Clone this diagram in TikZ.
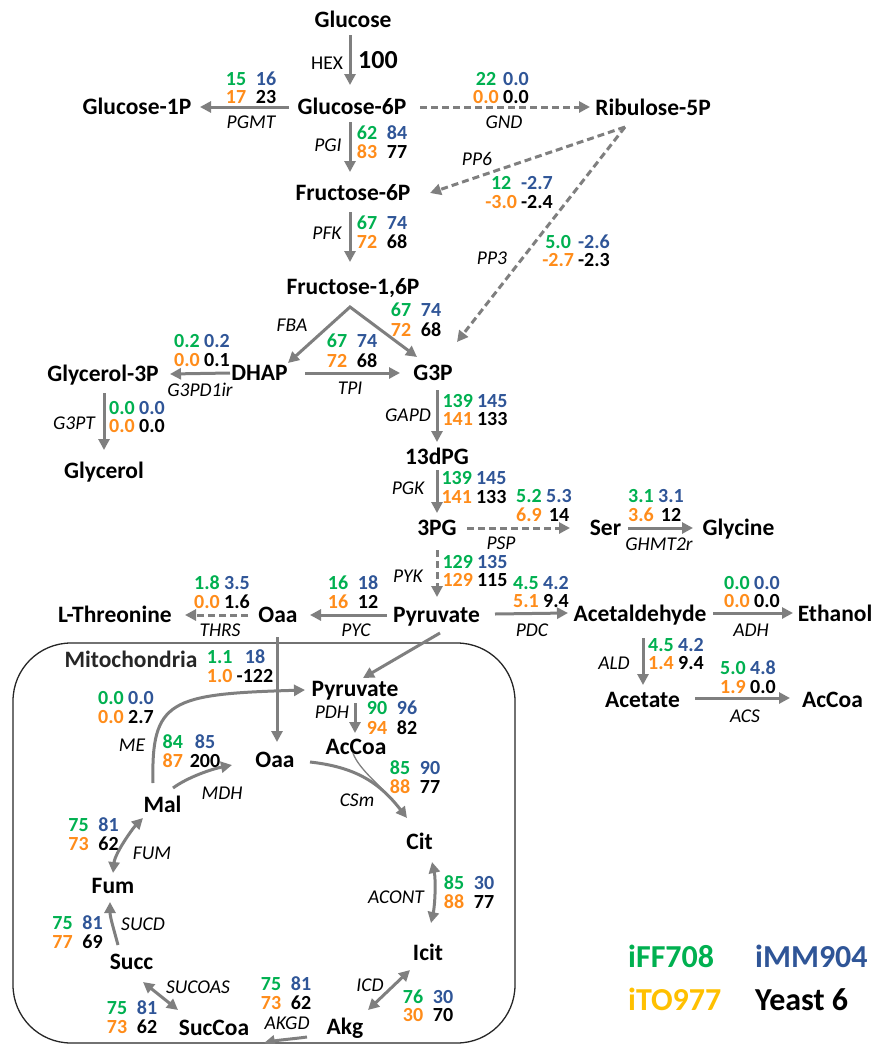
\documentclass[tikz,border=0pt]{standalone}
\usepackage{fontspec}
\setmainfont{Carlito}
\usetikzlibrary{arrows.meta,calc}
\definecolor{cG}{HTML}{00B050}
\definecolor{cB}{HTML}{2F5597}
\definecolor{cO}{HTML}{FF8C1A}
\definecolor{cY}{HTML}{FFC000}
\definecolor{cK}{HTML}{000000}
\definecolor{cA}{HTML}{7F7F7F}
\newcommand\mcell[1]{\setbox0\hbox{#1}\ifdim\wd0<26pt\makebox[26pt]{#1}\else\box0\fi}
\newcommand\fx[4]{\begin{tabular}{@{}c@{\hspace{4pt}}c@{}}\mcell{\color{cG}#1}&\mcell{\color{cB}#2}\\\mcell{\color{cO}#3}&\mcell{\color{cK}#4}\end{tabular}}
\tikzset{
  met/.style={font=\fontsize{23.5}{28}\selectfont\bfseries, inner sep=0pt, text height=15.1pt, text depth=0pt},
  enz/.style={font=\fontsize{19.5}{22}\selectfont\itshape, inner sep=0pt, text height=12.2pt, text depth=0pt},
  num/.style={font=\fontsize{20}{18.5}\selectfont\bfseries, inner sep=0pt, yshift=-2.6pt},
  leg/.style={font=\fontsize{32}{36}\selectfont\bfseries, inner sep=0pt, text height=20.6pt, text depth=0pt, anchor=west},
  arr/.style={draw=cA, line width=3pt, -{Triangle[length=11pt,width=11pt]}},
  arrtwo/.style={draw=cA, line width=3pt, {Triangle[length=11pt,width=11pt]}-{Triangle[length=11pt,width=11pt]}},
  darr/.style={arr, dash pattern=on 7pt off 4pt},
  thinline/.style={draw=cA, line width=1.3pt},
}
\begin{document}
\begin{tikzpicture}[x=1pt,y=-1pt]
\useasboundingbox (0,0) rectangle (878,1044);
% mitochondria compartment
\coordinate (mtl) at (13,643);
\coordinate (mbr) at (515,1043);
\draw[line width=1.3pt, black!85, rounded corners=58pt] (mtl) rectangle (mbr);
% metabolites
\node[met] (glc) at (353,20) {Glucose};
\node[met] (g6p) at (352,107) {Glucose-6P};
\node[met] (g1p) at (137,107) {Glucose-1P};
\node[met] (r5p) at (653,108) {Ribulose-5P};
\node[met] (f6p) at (353,193) {Fructose-6P};
\node[met] (f16p) at (353,287) {Fructose-1,6P};
\node[met] (dhap) at (259.5,373) {DHAP};
\node[met] (g3p) at (433,373) {G3P};
\node[met] (g3pc) at (103,374) {Glycerol-3P};
\node[met] (glyc) at (104,471) {Glycerol};
\node[met] (dpg) at (437,457) {13dPG};
\node[met] (pg3) at (437,528) {3PG};
\node[met] (ser) at (605.5,528) {Ser};
\node[met] (gly) at (738.5,528) {Glycine};
\node[met] (pyr) at (436.5,615) {Pyruvate};
\node[met] (acald) at (640,614) {Acetaldehyde};
\node[met] (etoh) at (835,614) {Ethanol};
\node[met] (oaa) at (278,615) {Oaa};
\node[met] (thr) at (115,615) {L-Threonine};
\node[met] (acet) at (642.5,700) {Acetate};
\node[met] (caccoa) at (832.5,700) {AcCoa};
\node[met] (mpyr) at (355,689) {Pyruvate};
\node[met] (maccoa) at (356,747) {AcCoa};
\node[met] (moaa) at (275,760) {Oaa};
\node[met] (mal) at (162.5,805) {Mal};
\node[met] (cit) at (419.5,842) {Cit};
\node[met] (icit) at (428,953) {Icit};
\node[met] (akg) at (345,1027) {Akg};
\node[met] (succoa) at (214,1028) {SucCoa};
\node[met] (succ) at (131.5,962) {Succ};
\node[met] (fum) at (113,886) {Fum};
\node[met, text=black!85] (mito) at (131,660) {Mitochondria};
% enzyme labels
\node[enz, font=\fontsize{19.5}{22}\selectfont] (ehex) at (327,63) {HEX};
\node[num, font=\fontsize{26}{30}\selectfont\bfseries, yshift=2.6pt, text height=16.7pt, text depth=0pt] (v100) at (378,60) {100};
\node[enz] (epgmt) at (251,122) {PGMT};
\node[enz] (egnd) at (504,122) {GND};
\node[enz] (epgi) at (328,145) {PGI};
\node[enz] (epfk) at (327,233) {PFK};
\node[enz] (epp6) at (477,159) {PP6};
\node[enz] (epp3) at (492,258) {PP3};
\node[enz] (efba) at (292,325) {FBA};
\node[enz] (etpi) at (350,388) {TPI};
\node[enz] (eg3pd) at (200,390) {G3PD1ir};
\node[enz] (eg3pt) at (74,423) {G3PT};
\node[enz] (egapd) at (408,415) {GAPD};
\node[enz] (epgk) at (408,488) {PGK};
\node[enz] (epsp) at (501,543) {PSP};
\node[enz] (eghmt) at (659,544) {GHMT2r};
\node[enz] (epyk) at (408,576) {PYK};
\node[enz] (epdc) at (532,630) {PDC};
\node[enz] (eadh) at (751,630) {ADH};
\node[enz] (epyc) at (356,630) {PYC};
\node[enz] (ethrs) at (220,630) {THRS};
\node[enz] (eme) at (132,745) {ME};
\node[enz] (emdh) at (222,793) {MDH};
\node[enz] (epdh) at (332,712) {PDH};
\node[enz] (ecsm) at (357,800) {CSm};
\node[enz] (eacont) at (396,897) {ACONT};
\node[enz] (eicd) at (370,985) {ICD};
\node[enz] (eakgd) at (287,1023) {AKGD};
\node[enz] (esucoas) at (198,987) {SUCOAS};
\node[enz] (esucd) at (143,924) {SUCD};
\node[enz] (efum) at (152,853) {FUM};
\node[enz] (eald) at (614,663) {ALD};
\node[enz] (eacs) at (745,716) {ACS};
% flux values
\node[num] (npgmt) at (251,88) {\fx{15}{16}{17}{23}};
\node[num] (ngnd) at (501,88) {\fx{22}{0.0}{0.0}{0.0}};
\node[num] (npgi) at (382,142.5) {\fx{62}{84}{83}{77}};
\node[num] (npp6) at (519,192.5) {\fx{12}{-2.7}{-3.0}{-2.4}};
\node[num] (npfk) at (382,232.5) {\fx{67}{74}{72}{68}};
\node[num] (npp3) at (576,251) {\fx{5.0}{-2.6}{-2.7}{-2.3}};
\node[num] (nfba) at (416,320) {\fx{67}{74}{72}{68}};
\node[num] (ntpi) at (352,351) {\fx{67}{74}{72}{68}};
\node[num] (ng3pd) at (202,350.5) {\fx{0.2}{0.2}{0.0}{0.1}};
\node[num] (ng3pt) at (137,417) {\fx{0.0}{0.0}{0.0}{0.0}};
\node[num] (ngapd) at (475,410) {\fx{139}{145}{141}{133}};
\node[num] (npgk) at (474,487.5) {\fx{139}{145}{141}{133}};
\node[num] (npsp) at (544,506) {\fx{5.2}{5.3}{6.9}{14}};
\node[num] (nghmt) at (656,506) {\fx{3.1}{3.1}{3.6}{12}};
\node[num] (npyk) at (475,571) {\fx{129}{135}{129}{115}};
\node[num] (npdc) at (541,592) {\fx{4.5}{4.2}{5.1}{9.4}};
\node[num] (nadh) at (752,592) {\fx{0.0}{0.0}{0.0}{0.0}};
\node[num] (npyc) at (353,592.5) {\fx{16}{18}{16}{12}};
\node[num] (nthrs) at (222,592.5) {\fx{1.8}{3.5}{0.0}{1.6}};
\node[num] (ntrans) at (240,666) {\fx{1.1}{18}{1.0}{-122}};
\node[num] (nme) at (126,707.5) {\fx{0.0}{0.0}{0.0}{2.7}};
\node[num] (nmdh) at (190,751.5) {\fx{84}{85}{87}{200}};
\node[num] (npdh) at (392,718) {\fx{90}{96}{94}{82}};
\node[num] (ncsm) at (415,777.5) {\fx{85}{90}{88}{77}};
\node[num] (nacont) at (469,892) {\fx{85}{30}{88}{77}};
\node[num] (nicd) at (428,1006) {\fx{76}{30}{30}{70}};
\node[num] (nakgd) at (286,993.5) {\fx{75}{81}{73}{62}};
\node[num] (nsucoas) at (132,1017.5) {\fx{75}{81}{73}{62}};
\node[num] (nsucd) at (77.5,932.5) {\fx{75}{81}{77}{69}};
\node[num] (nfum) at (93.5,834) {\fx{75}{81}{73}{62}};
\node[num] (nald) at (676,654) {\fx{4.5}{4.2}{1.4}{9.4}};
\node[num] (nacs) at (748,677.5) {\fx{5.0}{4.8}{1.9}{0.0}};
% legend
\node[leg, text=cG] (lg1) at (628,957) {iFF708};
\node[leg, text=cB] (lg2) at (755,957) {iMM904};
\node[leg, text=cY] (lg3) at (628,1000) {iTO977};
\node[leg, text=black] (lg4) at (755,1000) {Yeast 6};
% connectors
\draw[arr] ([shift={(-3,15)}]glc.center) -- ([shift={(-2,-22)}]g6p.center);
\draw[arr] ([shift={(-63,0)}]g6p.center) -- ([shift={(63,0)}]g1p.center);
\draw[darr] ([shift={(68,0)}]g6p.center) -- ([shift={(-63,-1)}]r5p.center);
\draw[arr] ([shift={(-2,15)}]g6p.center) -- ([shift={(-3,-21)}]f6p.center);
\draw[darr] ([shift={(-28,19)}]r5p.center) -- ([shift={(77,0)}]f6p.center);
\draw[darr] ([shift={(-28,19)}]r5p.center) -- ([shift={(24,-31)}]g3p.center);
\draw[arr] ([shift={(-3,19)}]f6p.center) -- ([shift={(-3,-25)}]f16p.center);
\draw[arrtwo, line join=miter] ([shift={(28.5,-10)}]dhap.center) -- ([shift={(-3,20)}]f16p.center) -- ([shift={(-16,-16)}]g3p.center);
\draw[arr] ([shift={(45.5,0)}]dhap.center) -- ([shift={(-33,0)}]g3p.center);
\draw[arr] ([shift={(-29.5,0)}]dhap.center) -- ([shift={(67,0)}]g3pc.center);
\draw[arr] ([shift={(1,19)}]g3pc.center) -- ([shift={(0,-21)}]glyc.center);
\draw[arr] ([shift={(4,17)}]g3p.center) -- ([shift={(0,-15)}]dpg.center);
\draw[arr] ([shift={(0,13)}]dpg.center) -- ([shift={(0,-15)}]pg3.center);
\draw[darr] ([shift={(30,0)}]pg3.center) -- ([shift={(-35.5,0)}]ser.center);
\draw[arr] ([shift={(22.5,0)}]ser.center) -- ([shift={(-45.5,0)}]gly.center);
\draw[darr] ([shift={(0,22)}]pg3.center) -- ([shift={(0.5,-18)}]pyr.center);
\draw[arr] ([shift={(58.5,-1)}]pyr.center) -- ([shift={(-72,-1)}]acald.center);
\draw[arr] ([shift={(73,-1)}]acald.center) -- ([shift={(-42,-1)}]etoh.center);
\draw[arr] ([shift={(-49.5,0)}]pyr.center) -- ([shift={(32,0)}]oaa.center);
\draw[darr] ([shift={(-30,0)}]oaa.center) -- ([shift={(70,0)}]thr.center);
\draw[arr] ([shift={(3,24)}]acald.center) -- ([shift={(0.5,-15)}]acet.center);
\draw[arr] ([shift={(52.5,-2)}]acet.center) -- ([shift={(-42.5,-2)}]caccoa.center);
\draw[arr] ([shift={(-1,22)}]oaa.center) -- ([shift={(2,-18)}]moaa.center);
\draw[arr] ([shift={(3.5,18)}]pyr.center) -- ([shift={(8,-11)}]mpyr.center);
\draw[arr] ([shift={(-9.5,-22)}]mal.center) .. controls +(-2,-83) and +(-135,4) .. ([shift={(-50,1)}]mpyr.center);
\draw[arr] ([shift={(10.5,-17)}]mal.center) .. controls +(15,-11) and +(-20,4) .. ([shift={(-43,5)}]moaa.center);
\draw[arr] ([shift={(0,14)}]mpyr.center) -- ([shift={(-1,-14)}]maccoa.center);
\draw[arr] ([shift={(35,2)}]moaa.center) .. controls +(45,5) and +(-28,-36) .. ([shift={(-12.5,-24)}]cit.center);
\draw[thinline] ([shift={(-3,6)}]maccoa.center) .. controls +(5,15) and +(-12,-14) .. ([shift={(-28,-43)}]cit.center);
\draw[arrtwo] ([shift={(12.5,20)}]cit.center) .. controls +(4,18) and +(4,-18) .. ([shift={(3,-30)}]icit.center);
\draw[arrtwo] ([shift={(-18,17)}]icit.center) -- ([shift={(23,-17)}]akg.center);
\draw[arr] ([shift={(-38,10)}]akg.center) .. controls +(-15,2) and +(15,-3) .. ([shift={(50,15)}]succoa.center);
\draw[arrtwo] ([shift={(11.5,20)}]succ.center) -- ([shift={(-36,-18)}]succoa.center);
\draw[arr] ([shift={(-13.5,-17)}]succ.center) .. controls +(-4,-15) and +(0,15) .. ([shift={(-3,16)}]fum.center);
\draw[arrtwo] ([shift={(0,-13)}]fum.center) .. controls +(2,-20) and +(-10,10) .. ([shift={(-19.5,13)}]mal.center);
\end{tikzpicture}
\end{document}
